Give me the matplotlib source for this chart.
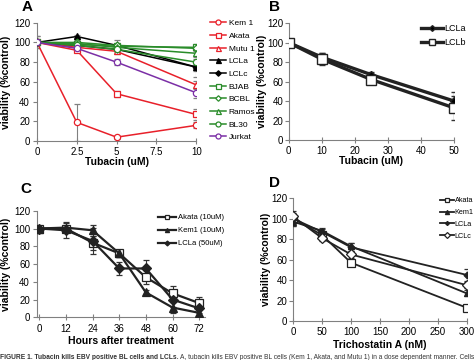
import matplotlib
matplotlib.use("Agg")
import matplotlib.pyplot as plt

# ---------------- Data ----------------
# Panel A
a_x = [0, 2.5, 5, 10]
a_names = ["Kem 1", "Akata", "Mutu 1", "LCLa", "LCLc", "BJAB", "BCBL", "Ramos", "BL30", "Jurkat"]
a_vals = [
    [100, 19, 4, 16],
    [100, 92, 48, 27],
    [100, 95, 91, 57],
    [100, 106, 97, 75],
    [100, 97, 93, 75],
    [100, 98, 96, 95],
    [100, 100, 97, 94],
    [100, 99, 95, 89],
    [100, 97, 93, 80],
    [100, 94, 80, 49],
]
a_err = [
    [2, 19, 1.5, 3],
    [2, 2, 3, 6],
    [2, 2, 3, 4],
    [6, 2, 5, 10],
    [6, 2, 3, 4],
    [2, 2, 2, 3],
    [2, 2, 2, 3],
    [2, 2, 2, 3],
    [2, 2, 2, 3],
    [2, 2, 3, 5],
]
a_colors = ["#e8202a", "#e8202a", "#e8202a", "#000000", "#000000",
            "#2a8c2a", "#2a8c2a", "#2a8c2a", "#2a8c2a", "#7b2fa6"]
a_markers = ["o", "s", "^", "^", "D", "s", "D", "^", "o", "o"]
a_fill = ["white", "white", "white", "black", "black",
          "white", "white", "white", "white", "white"]
a_xticks = [0, 2.5, 5, 7.5, 10]
a_xticklabels = ["0", "2.5", "5", "7.5", "10"]

# Panel B
b_x = [0, 10, 25, 50]
b_names = ["LCLa", "LCLb"]
b_vals = [[100, 85, 67, 40], [100, 83, 62, 33]]
b_err = [[2, 4, 3, 9], [2, 6, 3, 12]]

# Panel C
c_x = [0, 12, 24, 36, 48, 60, 72]
c_names = ["Akata (10uM)", "Kem1 (10uM)", "LCLa (50uM)"]
c_vals = [
    [100, 100, 84, 72, 45, 27, 16],
    [100, 101, 98, 72, 28, 11, 5],
    [100, 98, 86, 55, 55, 20, 10],
]
c_err = [
    [3, 3, 8, 4, 8, 8, 7],
    [3, 5, 6, 4, 3, 6, 4],
    [3, 9, 15, 7, 10, 8, 5],
]

# Panel D
d_x = [0, 50, 100, 300]
d_names = ["Akata", "Kem1", "LCLa", "LCLc"]
d_vals = [
    [100, 84, 57, 13],
    [97, 88, 73, 27],
    [100, 87, 72, 45],
    [102, 81, 65, 35],
]
d_err = [
    [4, 3, 2, 2],
    [4, 3, 3, 3],
    [7, 3, 4, 6],
    [3, 3, 3, 3],
]

caption_bold = "FIGURE 1. Tubacin kills EBV positive BL cells and LCLs. "
caption_rest = "A, tubacin kills EBV positive BL cells (Kem 1, Akata, and Mutu 1) in a dose dependent manner. Cells"

# ---------------- Figure ----------------
plt.rcParams["font.family"] = ["Liberation Sans", "DejaVu Sans"]
fig = plt.figure(figsize=(4.74, 3.6), dpi=100)

def style(ax, labelpad=2, ylim=(0, 120)):
    for s in ["top", "right"]:
        ax.spines[s].set_visible(False)
    for s in ["left", "bottom"]:
        ax.spines[s].set_color("#808080")
        ax.spines[s].set_linewidth(0.8)
    ax.set_ylim(*ylim)
    ax.set_yticks([0, 20, 40, 60, 80, 100, 120])
    ax.tick_params(axis="both", labelsize=7, color="#808080", length=3, width=0.8,
                   pad=2)
    ax.tick_params(axis="x", direction="inout", length=5)
    ax.set_ylabel("viability (%control)", fontsize=7.5, fontweight="bold",
                  labelpad=labelpad)

# Panel A
axA = fig.add_axes([0.078, 0.608, 0.336, 0.329])
for i, name in enumerate(a_names):
    axA.errorbar(a_x, a_vals[i], yerr=a_err[i], color=a_colors[i], ecolor="#808080",
                 elinewidth=0.8, capsize=2, capthick=0.8, marker=a_markers[i],
                 markersize=4.5 if a_markers[i] != "D" else 3.5,
                 markerfacecolor=a_fill[i], markeredgecolor=a_colors[i],
                 markeredgewidth=0.9, linewidth=1.1, label=name, zorder=3)
style(axA)
axA.set_xlim(0, 10)
axA.set_xticks(a_xticks)
axA.set_xticklabels(a_xticklabels)
axA.set_xlabel("Tubacin (uM)", fontsize=7.5, fontweight="bold", labelpad=0)
hA, lA = axA.get_legend_handles_labels()
hA = [h[0] for h in hA]
fig.legend(hA, lA, loc="upper left", bbox_to_anchor=(0.442, 0.946), frameon=False,
           fontsize=6, labelspacing=0.58, handlelength=2.0, handletextpad=0.3,
           borderaxespad=0, borderpad=0, markerscale=0.8)
fig.text(0.046, 1.0, "A", fontsize=11, fontweight="bold", va="top")

# Panel B
axB = fig.add_axes([0.609, 0.611, 0.349, 0.325])
b_styles = [dict(marker="D", markersize=4.5, markerfacecolor="black"),
            dict(marker="s", markersize=7, markerfacecolor="white")]
for i, name in enumerate(b_names):
    axB.errorbar(b_x, b_vals[i], yerr=b_err[i], color="#222222", ecolor="#333333",
                 elinewidth=0.9, capsize=2, capthick=0.9, markeredgecolor="#222222",
                 markeredgewidth=1.0, linewidth=2.4, label=name, zorder=3,
                 **b_styles[i])
style(axB, labelpad=0)
axB.tick_params(axis="y", pad=1)
axB.set_xlim(0, 50)
axB.set_xticks([0, 10, 20, 30, 40, 50])
axB.set_xlabel("Tubacin (uM)", fontsize=7.5, fontweight="bold", labelpad=0)
hB, lB = axB.get_legend_handles_labels()
hB = [h[0] for h in hB]
fig.legend(hB, lB, loc="upper left", bbox_to_anchor=(0.888, 0.933), frameon=False,
           fontsize=6.5, labelspacing=0.55, handlelength=2.4, handletextpad=0.2,
           borderaxespad=0, borderpad=0, markerscale=0.65)
fig.text(0.567, 1.0, "B", fontsize=11, fontweight="bold", va="top")

# Panel C
axC = fig.add_axes([0.078, 0.1186, 0.354, 0.296])
c_styles = [dict(marker="s", markersize=5.5, markerfacecolor="white"),
            dict(marker="^", markersize=6, markerfacecolor="#222222"),
            dict(marker="D", markersize=5, markerfacecolor="#222222")]
for i, name in enumerate(c_names):
    axC.errorbar(c_x, c_vals[i], yerr=c_err[i], color="#222222", ecolor="#333333",
                 elinewidth=0.8, capsize=2, capthick=0.8, markeredgecolor="#222222",
                 markeredgewidth=0.9, linewidth=1.6, label=name, zorder=3,
                 **c_styles[i])
style(axC)
axC.set_xlim(-1, 74.5)
axC.set_xticks(c_x)
axC.set_xlabel("Hours after treatment", fontsize=7.5, fontweight="bold", labelpad=2)
hC, lC = axC.get_legend_handles_labels()
hC = [h[0] for h in hC]
fig.legend(hC, lC, loc="upper left", bbox_to_anchor=(0.333, 0.406), frameon=False,
           fontsize=5.5, labelspacing=0.75, handlelength=2.4, handletextpad=0.2,
           borderaxespad=0, borderpad=0, markerscale=0.5)
fig.text(0.042, 0.495, "C", fontsize=11, fontweight="bold", va="top")

# Panel D
axD = fig.add_axes([0.618, 0.108, 0.367, 0.342])
d_styles = [dict(marker="s", markersize=5.5, markerfacecolor="white"),
            dict(marker="^", markersize=5, markerfacecolor="#222222"),
            dict(marker="D", markersize=3.5, markerfacecolor="#222222"),
            dict(marker="D", markersize=5, markerfacecolor="white")]
for i, name in enumerate(d_names):
    axD.errorbar(d_x, d_vals[i], yerr=d_err[i], color="#222222", ecolor="#333333",
                 elinewidth=0.8, capsize=2, capthick=0.8, markeredgecolor="#222222",
                 markeredgewidth=0.9, linewidth=1.3, label=name, zorder=3,
                 **d_styles[i])
style(axD, labelpad=0)
axD.tick_params(axis="y", pad=1)
axD.set_xlim(0, 300)
axD.set_xticks([0, 50, 100, 150, 200, 250, 300])
axD.set_xlabel("Trichostatin A (nM)", fontsize=7.5, fontweight="bold", labelpad=2)
hD, lD = axD.get_legend_handles_labels()
hD = [h[0] for h in hD]
fig.legend(hD, lD, loc="upper left", bbox_to_anchor=(0.928, 0.452), frameon=False,
           fontsize=5.2, labelspacing=0.65, handlelength=1.9, handletextpad=0.15,
           borderaxespad=0, borderpad=0, markerscale=0.6)
fig.text(0.567, 0.51, "D", fontsize=11, fontweight="bold", va="top")

# Caption (partially clipped)
t = fig.text(0.0, 0.006, caption_bold, fontsize=4.8, fontweight="bold", va="center",
             color="#333333")
fig.canvas.draw()
bb = t.get_window_extent()
fig.text(bb.x1 / fig.bbox.width, 0.006, caption_rest, fontsize=4.8, va="center",
         color="#333333")

fig.savefig("out.png", dpi=100)
